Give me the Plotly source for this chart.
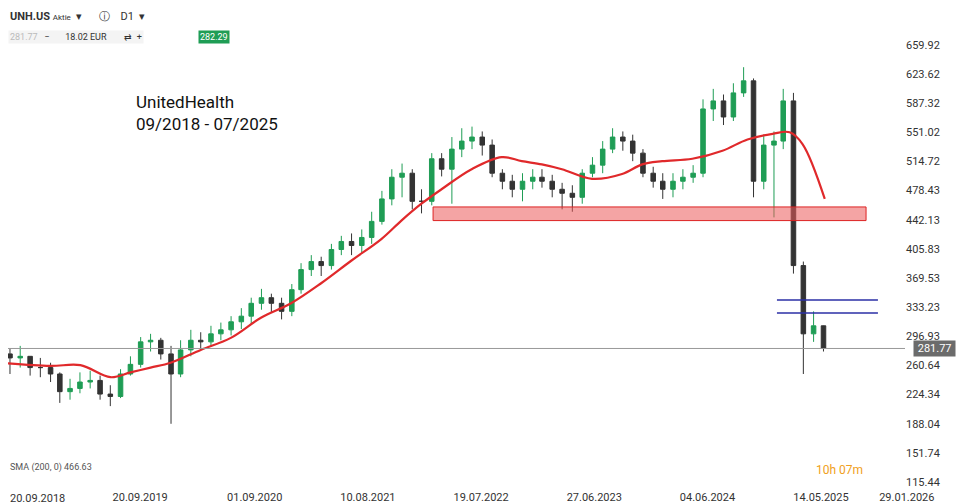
import plotly.graph_objects as go
import pandas as pd

months = pd.date_range("2018-09-01", periods=83, freq="MS") + pd.Timedelta(days=19)
close = [275,270,272,258,258,250,228,232,240,242,225,222,250,262,290,292,275,250,280,292,
         290,300,305,315,322,338,345,338,328,355,380,390,385,405,415,410,420,440,468,495,
         500,465,465,518,505,530,540,545,535,500,490,480,490,495,490,480,475,470,500,510,
         530,545,540,525,500,490,480,490,495,500,580,590,570,600,615,490,535,540,590,385,
         300,310,282]
high = [288,282,285,272,270,264,252,244,252,254,248,236,256,272,296,300,295,285,292,305,
        302,310,314,322,332,345,356,350,345,362,388,398,396,412,422,425,430,452,478,505,
        512,505,480,525,525,545,556,558,552,542,505,498,500,505,505,498,488,485,505,520,
        540,556,552,548,530,508,500,500,505,510,592,605,598,612,632,618,548,552,605,600,
        390,328,305]
low  = [262,250,258,248,246,240,214,218,226,232,218,210,220,248,258,278,268,188,246,272,
        280,284,292,298,306,312,330,326,318,322,350,372,372,380,398,398,400,412,436,460,
        470,455,450,460,496,462,520,530,522,495,480,470,465,480,482,470,455,452,462,495,
        500,525,528,515,495,482,468,470,480,488,495,565,560,565,595,470,480,445,530,375,
        250,290,278]
opens = [close[0]] + close[:-1]

sma_x = [0,5,8,11,13,15,17,20,23,26,29,32,35,38,40,42,44,47,50,52,54,56,59,62,64,66,69,72,74.5,77,78.7,80,82.2]
sma_y = [264,260,261,246,252,258,264,280,295,320,338,363,391,418,441,462,480,505,520,515,511,505,493,499,511,515,518,528,542,549,551,536,468]
sma_dates = [pd.Timestamp("2018-09-20") + pd.Timedelta(days=v * 30.4) for v in sma_x]

yticks = [659.92,623.62,587.32,551.02,514.72,478.43,442.13,405.83,369.53,333.23,296.93,260.64,224.34,188.04,151.74,115.44]
xtick_dates = ["2019-09-20","2020-09-01","2021-08-10","2022-07-19","2023-06-27","2024-06-04","2025-05-14","2026-01-29"]
xtick_text = ["20.09.2019","01.09.2020","10.08.2021","19.07.2022","27.06.2023","04.06.2024","14.05.2025","29.01.2026"]
first_label = "20.09.2018"
last_price = 281.77
zone = (441, 458)
blue_lines = [342, 326]

fig = go.Figure()
fig.add_trace(go.Candlestick(x=months, open=opens, high=high, low=low, close=close,
    increasing=dict(line=dict(color="#1f9d55", width=1), fillcolor="#1f9d55"),
    decreasing=dict(line=dict(color="#333333", width=1), fillcolor="#333333"),
    whiskerwidth=0, showlegend=False))
fig.add_trace(go.Scatter(x=sma_dates, y=sma_y, mode="lines", line=dict(color="#e0292b", width=2.2),
                         line_shape="spline", showlegend=False, hoverinfo="skip"))

fig.add_shape(type="rect", x0="2022-04-24", x1="2025-11-26", y0=zone[0], y1=zone[1],
              fillcolor="rgba(235,90,90,0.55)", line=dict(color="#d22", width=1))
for b in blue_lines:
    fig.add_shape(type="line", x0="2025-03-01", x1="2026-01-01", y0=b, y1=b, line=dict(color="#2b2fa6", width=1.5))
fig.add_shape(type="line", xref="paper", x0=0, x1=1, y0=last_price, y1=last_price, line=dict(color="#999", width=1))

fig.add_annotation(xref="paper", x=1.0, y=last_price, text=" 281.77 ", showarrow=False, xanchor="left",
                   bgcolor="#6b6b6b", font=dict(color="white", size=11), xshift=8)
fig.add_annotation(xref="paper", yref="paper", x=0.0, y=0, yanchor="top", xanchor="left", showarrow=False,
                   text=first_label, font=dict(size=11, color="#333"), yshift=-1)
fig.add_annotation(xref="paper", yref="paper", x=0.14, y=0.83, text="UnitedHealth<br>09/2018 - 07/2025",
                   showarrow=False, xanchor="left", align="left",
                   font=dict(family="Roboto", size=17, color="#111"))
# toolbar
fig.add_annotation(xref="paper", yref="paper", x=0.0, y=1.0, yanchor="top", xanchor="left", showarrow=False,
                   text="<b>UNH.US</b> <span style='font-size:8px'>Aktie</span>  ▾      ⓘ    D1  ▾",
                   font=dict(size=11, color="#333"))
fig.add_annotation(xref="paper", yref="paper", x=0.0, y=0.955, yanchor="top", xanchor="left", showarrow=False,
                   text="<span style='color:#bbb'>281.77</span>   −       18.02 EUR        ⇄  +",
                   font=dict(size=9, color="#333"), bgcolor="#f4f4f4")
fig.add_annotation(xref="paper", yref="paper", x=0.212, y=0.955, yanchor="top", xanchor="left", showarrow=False,
                   text="282.29", font=dict(size=9, color="white"), bgcolor="#1f9d55")
fig.add_annotation(xref="paper", yref="paper", x=0.0, y=0.03, yanchor="bottom", xanchor="left", showarrow=False,
                   text="SMA (200, 0) 466.63", font=dict(size=9, color="#555"))
fig.add_annotation(xref="paper", yref="paper", x=0.955, y=0.02, yanchor="bottom", xanchor="right", showarrow=False,
                   text="10h 07m", font=dict(size=12, color="#f0a020"))

fig.update_layout(
    width=961, height=496, margin=dict(l=0, r=64, t=0, b=12),
    plot_bgcolor="white", paper_bgcolor="white", font=dict(family="Roboto", color="#333"),
    xaxis=dict(range=["2018-10-14", "2026-03-24"], rangeslider=dict(visible=False), showgrid=False,
               tickvals=xtick_dates, ticktext=xtick_text, ticklabelposition="outside right",
               ticklabelshift=-8,
               tickfont=dict(size=11), showline=False, zeroline=False, ticks=""),
    yaxis=dict(range=[106.8, 705.7], side="right", tickvals=yticks, ticktext=[f"{v:.2f}" for v in yticks],
               showgrid=False, zeroline=False, tickfont=dict(size=11)),
)
fig.write_html("out.html")
